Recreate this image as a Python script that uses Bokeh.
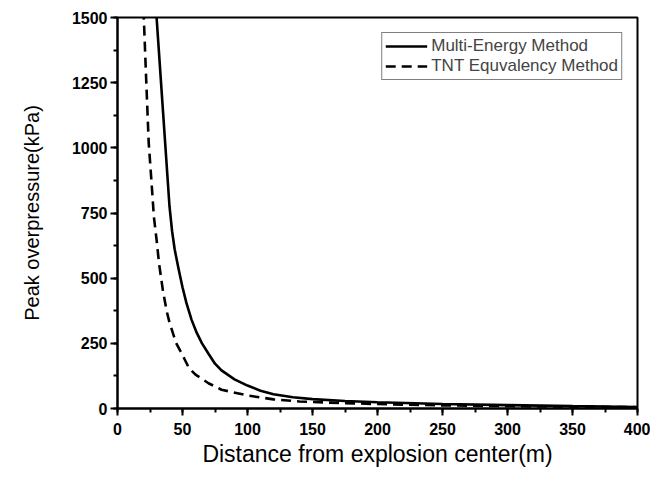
from bokeh.plotting import figure
from bokeh.models import Range1d, SingleIntervalTicker, Legend, LegendItem
from bokeh.embed import file_html
from bokeh.resources import INLINE

# Data
me_distance = [30, 35, 40, 42, 44, 47, 50, 53, 57, 61, 65, 70, 75, 80, 90, 100, 110, 120, 135, 150, 175, 200, 250, 300, 350, 400]
me_pressure = [1505, 1140, 775, 680, 610, 535, 465, 405, 340, 290, 250, 210, 172, 146, 112, 88, 68, 55, 43, 36, 29, 24, 17, 13, 9, 6]

tnt_distance = [20, 21, 22, 24, 26, 28, 30, 32, 35, 38, 40, 45, 50, 55, 60, 70, 80, 100, 120, 140, 160, 200, 250, 300, 350, 400]
tnt_pressure = [1530, 1400, 1270, 1020, 880, 735, 650, 555, 450, 370, 330, 252, 205, 155, 130, 97, 72, 50, 35, 27, 23, 17, 12, 9, 7, 5]

x_label = "Distance from explosion center(m)"
y_label = "Peak overpressure(kPa)"
series_names = ["Multi-Energy Method", "TNT Equvalency Method"]

FONT = "Liberation Sans"

p = figure(width=650, height=477, output_backend="svg", toolbar_location=None,
           x_range=Range1d(0, 400), y_range=Range1d(0, 1500),
           min_border_left=117, min_border_right=13, min_border_top=17, min_border_bottom=69)

p.xgrid.visible = False
p.ygrid.visible = False
p.outline_line_color = "black"
p.outline_line_width = 2
p.background_fill_color = "white"
p.border_fill_color = "white"

r1 = p.line(me_distance, me_pressure, line_color="black", line_width=2.6)
r2 = p.line(tnt_distance, tnt_pressure, line_color="black", line_width=2.6, line_dash="10 6")

p.xaxis.ticker = SingleIntervalTicker(interval=50, num_minor_ticks=2)
p.yaxis.ticker = SingleIntervalTicker(interval=250, num_minor_ticks=2)

for ax in (p.xaxis[0], p.yaxis[0]):
    ax.axis_line_width = 2
    ax.axis_line_color = "black"
    ax.major_tick_line_width = 2
    ax.minor_tick_line_width = 2
    ax.major_tick_line_color = "black"
    ax.minor_tick_line_color = "black"
    ax.major_tick_in = 0
    ax.minor_tick_in = 0
    ax.major_tick_out = 7
    ax.minor_tick_out = 4
    ax.major_label_text_font = FONT
    ax.major_label_text_font_style = "bold"
    ax.major_label_text_font_size = "16px"
    ax.major_label_text_color = "black"
    ax.axis_label_text_font = FONT
    ax.axis_label_text_font_style = "normal"
    ax.axis_label_text_color = "black"

p.xaxis.axis_label = x_label
p.yaxis.axis_label = y_label
p.xaxis.axis_label_text_font_size = "23px"
p.yaxis.axis_label_text_font_size = "20px"
p.xaxis.major_label_standoff = 7
p.yaxis.major_label_standoff = 3
p.xaxis.axis_label_standoff = 3
p.yaxis.axis_label_standoff = 26

legend = Legend(items=[LegendItem(label=series_names[0], renderers=[r1]),
                       LegendItem(label=series_names[1], renderers=[r2])],
                location="top_right")
legend.margin = 15
legend.padding = 3
legend.spacing = 0
legend.label_text_font = FONT
legend.label_text_font_size = "17px"
legend.label_height = 20
legend.glyph_height = 20
legend.glyph_width = 42
legend.label_standoff = 4
legend.border_line_color = "black"
legend.border_line_width = 1
legend.background_fill_alpha = 1
p.add_layout(legend)

open("out.html", "w").write(file_html(p, INLINE))
